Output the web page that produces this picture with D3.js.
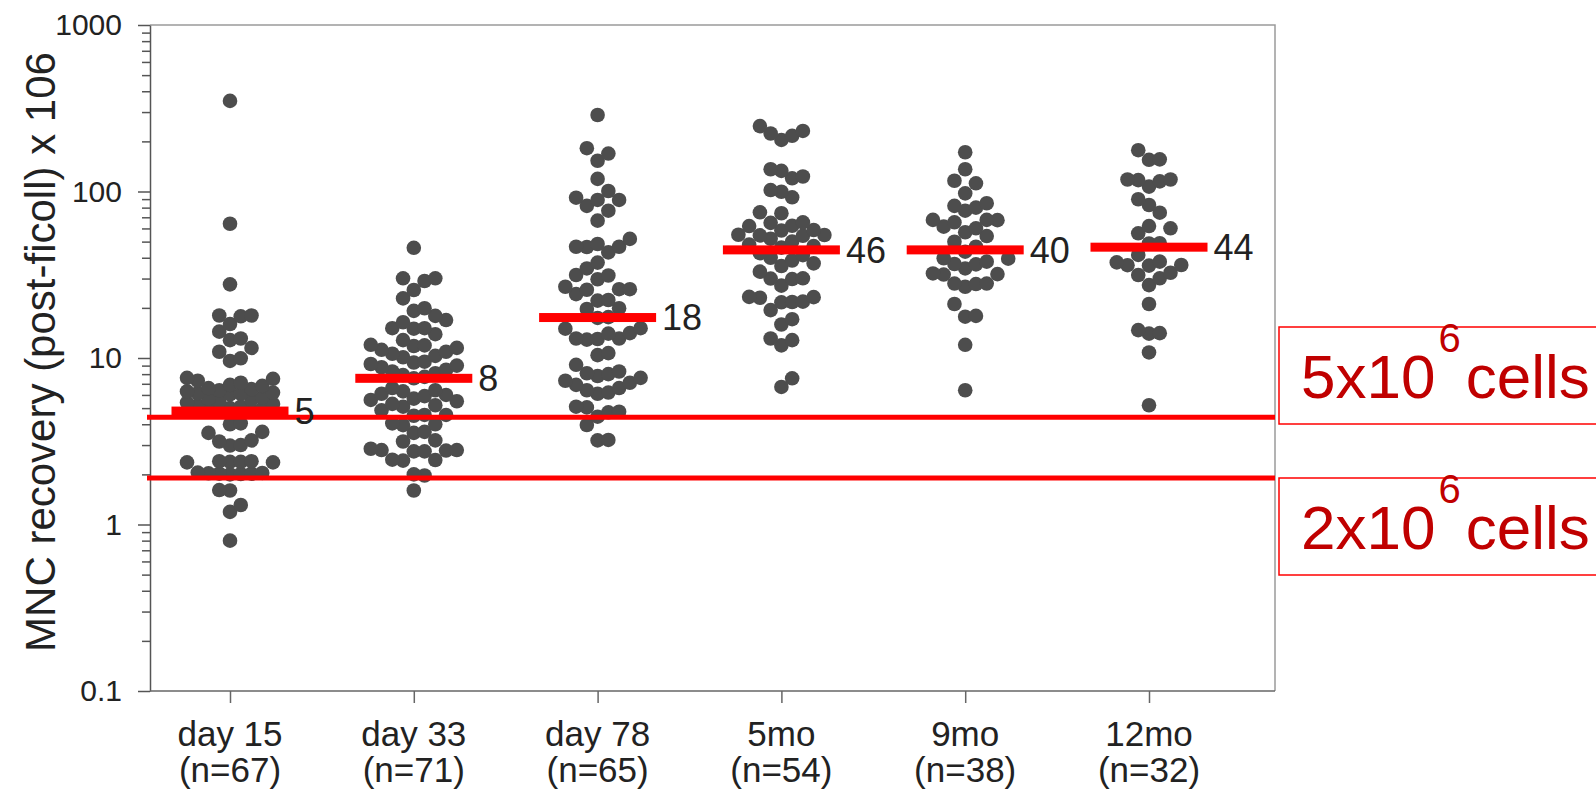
<!DOCTYPE html>
<html>
<head>
<meta charset="utf-8">
<script src="https://cdn.jsdelivr.net/npm/d3@7"></script>
<style>
  html, body { margin: 0; padding: 0; background: #fff; }
  svg { display: block; font-family: "Liberation Sans", Arial, sans-serif; }
</style>
</head>
<body>
<div id="chart"></div>
<script>
// --- data (values x10^6 cells) ---
const groups = ["day 15", "day 33", "day 78", "5mo", "9mo", "12mo"];
const groupN = ["(n=67)", "(n=71)", "(n=65)", "(n=54)", "(n=38)", "(n=32)"];

const day15 = [350, 64, 27.7, 18, 18, 17.8, 16, 14.4, 13.1, 12.8, 11.5, 10.9, 9.96, 9.6,
    7.6, 7.5, 7.3, 7.1, 6.9, 6.8, 6.6, 6.5, 6.4, 6.3, 6.2, 6.15, 6.1, 6.05,
    5.8, 5.7, 5.6, 5.5, 5.4, 5.3, 5.2, 5.1, 5.0, 4.95, 4.9, 4.85, 4.8,
    4.05, 4.0, 3.6, 3.55, 3.2, 3.15, 3.0, 2.98,
    2.4, 2.4, 2.38, 2.38, 2.36, 2.36, 2.05, 2.04, 2.03, 2.02, 2.02, 2.01, 2.0,
    1.61, 1.6, 1.31, 1.19, 0.8];
const day33 = [45.9, 30.1, 30.1, 29.0, 25.6, 22.8, 19.9, 19.2, 17.9, 16.9, 16.4, 15.1, 15.1, 15.0, 13.9, 12.8,
    12.0, 11.9, 11.8, 11.5, 11.2, 10.9, 10.6, 10.3, 10.1,
    9.5, 9.4, 9.2, 9.0, 8.8, 8.5, 8.3, 8.1, 7.9, 7.7, 7.55,
    6.6, 6.4, 6.3, 6.1, 6.0, 5.9, 5.7, 5.6, 5.5, 5.3, 5.2, 5.1,
    4.85, 4.55, 4.55, 4.5, 4.05, 4.0, 3.95, 3.6, 3.55, 3.2, 3.15,
    2.85, 2.8, 2.8, 2.78, 2.75, 2.75, 2.45, 2.44, 2.42, 2.0, 1.97, 1.6];
const day78 = [288, 182, 169, 153, 119, 100.7, 91.8, 89, 89, 82, 76.7, 66.8,
    51.9, 48.4, 46.6, 46.6, 46.4, 43.1,
    37.4, 34.5, 31.5, 31.3, 29.7, 26.8, 25.9, 25.9, 25.7, 24.2, 22.3, 22.1,
    19.9, 19.7, 17.6, 17.4, 15.1, 15.0, 14.1, 14.0, 13.1, 13.1, 13.0, 12.9,
    10.7, 10.4, 9.1, 8.3,
    8.1, 8.0, 7.8, 7.6, 7.3, 7.1, 6.9, 6.6, 6.4, 6.2, 6.1,
    5.1, 5.05, 4.76, 4.72, 4.44, 3.96, 3.22, 3.2];
const mo5 = [247, 231, 223, 216, 204, 136, 133, 123, 120, 102, 99.7, 92.3,
    75, 74, 65.3, 64.8, 62.3, 62, 58.7, 58.3, 55, 54.8, 54.5, 54.2,
    52, 50, 48, 47, 46, 42.6, 41.5, 40, 38.5, 37, 35.7, 33,
    30.1, 30.0, 29.8, 27.2, 23.3, 23.2, 23.0, 21.8, 21.7, 21.6,
    19.4, 17.1, 15.9, 13.1, 12.8, 11.9, 7.55, 6.7];
const mo9 = [172, 136, 116, 112, 97.5, 85, 82, 80, 76.7,
    67.5, 67.5, 67.3, 65.3, 61.5, 60.1, 56.9, 54, 49.9, 46.6,
    43.5, 39.7, 39.5, 37.9, 36.7, 36.5, 34.5, 32.2, 31.9, 31.7,
    28, 28, 27.8, 26.8, 21.1, 17.9, 17.7, 12, 6.4];
const mo12 = [177, 156, 155, 118, 118, 117, 115, 107, 89.8, 83, 74.6,
    62, 60.1, 56.1, 48.9, 48.7,
    41.6, 37.9, 37.5, 36.2, 36.1, 35.9, 32.5, 31.5, 30.1, 27.4,
    21.1, 14.7, 14.1, 14.0, 10.8, 5.2];
const seriesValues = [day15, day33, day78, mo5, mo9, mo12];

const medians = [4.8, 7.55, 17.5, 44.6, 44.6, 46.3];
const medianLabels = ["5", "8", "18", "46", "40", "44"];

const thresholds = [4.4, 1.9];
const thresholdLabels = [["5x10", "6", "cells"], ["2x10", "6", "cells"]];

const yMajorTicks = [0.1, 1, 10, 100, 1000];
const yTickLabels = ["0.1", "1", "10", "100", "1000"];
const yTitle = "MNC recovery (post-ficoll) x 106";

// --- layout ---
const W = 1596, H = 791;
const margin = { top: 25, right: 321, bottom: 100, left: 150 };
const width = W - margin.left - margin.right;
const height = H - margin.top - margin.bottom;

const x = d3.scalePoint().domain(groups).range([80, 999]);
const y = d3.scaleLog().domain([0.1, 1000]).range([height, 0]);

const dotR = 7.3, STEP = 10.75, MAXK = 4, AX = 10.5, AY = 16;
const barW = 117, barH = 9;

const svg = d3.select("#chart").append("svg")
    .attr("width", W).attr("height", H);
svg.append("rect").attr("width", W).attr("height", H).attr("fill", "#fff");

const g = svg.append("g")
    .attr("transform", `translate(${margin.left}, ${margin.top})`);

// beeswarm: ascending order, nearest free half-column slot, max +-MAXK slots;
// when every slot is taken the least crowded one is used
function swarm(values) {
    const placed = [];
    const offsets = [0];
    for (let k = 1; k <= MAXK; k++) offsets.push(k * STEP, -k * STEP);
    values.slice().sort((a, b) => a - b).forEach(v => {
        const cy = y(v);
        let best = null, bestScore = -1;
        for (const off of offsets) {
            const score = d3.min(placed, p =>
                ((p.dx - off) / AX) ** 2 + ((p.cy - cy) / AY) ** 2);
            const s = score === undefined ? Infinity : score;
            if (s >= 1) { best = off; break; }
            if (s > bestScore) { bestScore = s; best = off; }
        }
        placed.push({ v: v, dx: best, cy: cy });
    });
    return placed;
}

// frame (top + right)
g.append("path")
    .attr("d", `M0,0H${width}V${height}`)
    .attr("fill", "none").attr("stroke", "#9a9a9a").attr("stroke-width", 1.5);

// y axis: minor then major
const minor = [];
[0.1, 1, 10, 100].forEach(d => { for (let i = 2; i <= 9; i++) minor.push(d * i); });

const yMinor = g.append("g").call(d3.axisLeft(y).tickValues(minor).tickSize(8).tickFormat(""));
const yMajor = g.append("g").call(d3.axisLeft(y).tickValues(yMajorTicks).tickSize(12)
    .tickSizeOuter(0).tickPadding(16).tickFormat((d, i) => yTickLabels[i]));
[yMinor, yMajor].forEach(a => {
    a.selectAll("path, line").attr("stroke", "#555").attr("stroke-width", 1.5);
});
yMinor.select(".domain").remove();
yMajor.selectAll("text").attr("font-size", 30).attr("fill", "#222")
    .attr("font-family", "Liberation Sans, Arial, sans-serif");

// x axis
const xAxis = g.append("g")
    .attr("transform", `translate(0, ${height})`)
    .call(d3.axisBottom(x).tickSize(12).tickSizeOuter(0).tickFormat(""));
xAxis.selectAll("path, line").attr("stroke", "#666").attr("stroke-width", 1.5);
xAxis.select(".domain").attr("d", `M0,0H${width}`);

const xl = g.append("g").selectAll("text").data(groups).join("text")
    .attr("x", d => x(d))
    .attr("y", height + 55)
    .attr("text-anchor", "middle")
    .attr("font-size", 35)
    .attr("fill", "#222");
xl.append("tspan").text(d => d);
xl.append("tspan").attr("x", d => x(d)).attr("dy", 36).text((d, i) => groupN[i]);

// y title
svg.append("text")
    .attr("transform", `translate(55, 352) rotate(-90)`)
    .attr("text-anchor", "middle")
    .attr("font-size", 42)
    .attr("fill", "#222")
    .text(yTitle);

// dots
groups.forEach((grp, i) => {
    g.append("g").selectAll("circle").data(swarm(seriesValues[i])).join("circle")
        .attr("cx", d => x(grp) + d.dx)
        .attr("cy", d => d.cy)
        .attr("r", dotR)
        .attr("fill", "#4d4d4d");
});

// threshold lines
g.append("g").selectAll("line").data(thresholds).join("line")
    .attr("x1", -3).attr("x2", width)
    .attr("y1", d => y(d)).attr("y2", d => y(d))
    .attr("stroke", "#ff0000").attr("stroke-width", 5);

// median bars + labels
g.append("g").selectAll("rect").data(medians).join("rect")
    .attr("x", (d, i) => x(groups[i]) - barW / 2)
    .attr("y", d => y(d) - barH / 2)
    .attr("width", barW).attr("height", barH)
    .attr("fill", "#ff0000");
g.append("g").selectAll("text").data(medians).join("text")
    .attr("x", (d, i) => x(groups[i]) + barW / 2 + 6)
    .attr("y", d => y(d))
    .attr("dy", "0.36em")
    .attr("font-size", 36)
    .attr("fill", "#222")
    .text((d, i) => medianLabels[i]);

// annotation boxes on the right
const boxTops = [327, 478];
thresholdLabels.forEach((lab, i) => {
    const top = boxTops[i];
    svg.append("rect")
        .attr("x", 1279).attr("y", top)
        .attr("width", 340).attr("height", 97)
        .attr("fill", "none").attr("stroke", "#ff0000").attr("stroke-width", 1.5);
    const t = svg.append("text")
        .attr("x", 1301).attr("y", top + 71)
        .attr("font-size", 62).attr("fill", "#c00000");
    t.append("tspan").text(lab[0]);
    t.append("tspan").attr("dx", 3).attr("dy", -46).attr("font-size", 40).text(lab[1]);
    t.append("tspan").attr("dx", 5).attr("dy", 46).text(lab[2]);
});
</script>
</body>
</html>
